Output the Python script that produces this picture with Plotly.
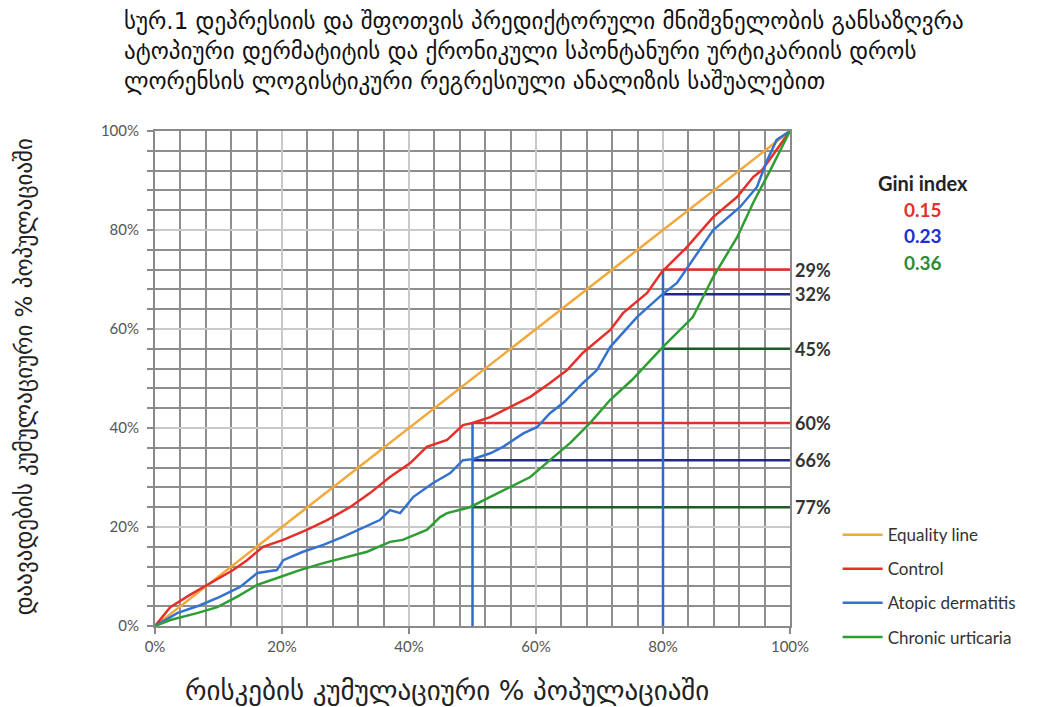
import plotly.graph_objects as go

# ---------------- data ----------------
eq_x = [0.0, 1.0]
eq_y = [0.0, 1.0]

control_x = [0, 0.024, 0.055, 0.091, 0.123, 0.145, 0.17, 0.202, 0.239, 0.271, 0.307, 0.339, 0.37, 0.402, 0.428,
             0.46, 0.485, 0.5, 0.528, 0.559, 0.591, 0.622, 0.649, 0.674, 0.717, 0.737, 0.775, 0.798, 0.838, 0.879,
             0.917, 0.942, 0.956, 1.0]
control_y = [0, 0.038, 0.063, 0.089, 0.113, 0.133, 0.16, 0.174, 0.194, 0.214, 0.24, 0.269, 0.301, 0.329, 0.362,
             0.376, 0.406, 0.41, 0.422, 0.442, 0.463, 0.491, 0.517, 0.552, 0.598, 0.632, 0.673, 0.715, 0.766, 0.826,
             0.867, 0.907, 0.921, 1.0]

atopic_x = [0, 0.035, 0.071, 0.102, 0.134, 0.161, 0.192, 0.202, 0.233, 0.265, 0.296, 0.328, 0.354, 0.37, 0.386,
            0.407, 0.438, 0.465, 0.485, 0.5, 0.528, 0.548, 0.58, 0.602, 0.622, 0.644, 0.674, 0.696, 0.717, 0.759,
            0.798, 0.822, 0.847, 0.879, 0.921, 0.948, 0.964, 0.979, 1.0]
atopic_y = [0, 0.026, 0.042, 0.059, 0.079, 0.107, 0.113, 0.133, 0.15, 0.164, 0.18, 0.198, 0.214, 0.234, 0.228,
            0.261, 0.289, 0.309, 0.335, 0.337, 0.349, 0.362, 0.389, 0.402, 0.43, 0.452, 0.491, 0.517, 0.564, 0.624,
            0.669, 0.693, 0.739, 0.80, 0.846, 0.887, 0.941, 0.982, 1.0]

chronic_x = [0, 0.024, 0.066, 0.098, 0.129, 0.161, 0.197, 0.228, 0.265, 0.302, 0.334, 0.37, 0.39, 0.428, 0.449,
             0.46, 0.496, 0.528, 0.559, 0.591, 0.622, 0.654, 0.685, 0.717, 0.751, 0.80, 0.847, 0.879, 0.917, 0.942,
             0.969, 1.0]
chronic_y = [0, 0.012, 0.026, 0.038, 0.059, 0.083, 0.099, 0.113, 0.127, 0.139, 0.15, 0.17, 0.174, 0.194, 0.22,
             0.228, 0.24, 0.261, 0.281, 0.301, 0.335, 0.37, 0.41, 0.457, 0.497, 0.564, 0.624, 0.705, 0.786, 0.855,
             0.921, 1.0]

cut_x = [0.5, 0.8]
control_cut = [0.41, 0.72]
atopic_cut = [0.335, 0.67]
chronic_cut = [0.24, 0.56]
control_labels = ["60%", "29%"]
atopic_labels = ["66%", "32%"]
chronic_labels = ["77%", "45%"]

gini_values = ["0.15", "0.23", "0.36"]

title_lines = [
    "სურ.1 დეპრესიის და შფოთვის პრედიქტორული მნიშვნელობის განსაზღვრა",
    "ატოპიური დერმატიტის და ქრონიკული სპონტანური ურტიკარიის დროს",
    "ლორენსის ლოგისტიკური რეგრესიული ანალიზის საშუალებით",
]
x_title = "რისკების კუმულაციური % პოპულაციაში"
y_title = "დაავადების კუმულაციური % პოპულაციაში"

# ---------------- colours ----------------
C_EQ = "#F2A83A"
C_CTRL = "#E5302A"
C_AD = "#3572CF"
C_CU = "#2E9E32"
C_AD_H = "#1F2A85"
C_CU_H = "#1D5C22"
C_VERT = "#2D6CC6"

fig = go.Figure()

# cutoff horizontal lines
for cuts, col in [(control_cut, C_CTRL), (atopic_cut, C_AD_H), (chronic_cut, C_CU_H)]:
    for cx, cy in zip(cut_x, cuts):
        fig.add_trace(go.Scatter(x=[cx, 1.0], y=[cy, cy], mode="lines",
                                 line=dict(color=col, width=2.5), showlegend=False, hoverinfo="skip"))
# vertical cutoff lines
for cx, cy in zip(cut_x, control_cut):
    fig.add_trace(go.Scatter(x=[cx, cx], y=[0, cy], mode="lines",
                             line=dict(color=C_VERT, width=2.5), showlegend=False, hoverinfo="skip"))

# curves
curves = [
    ("Equality line", eq_x, eq_y, C_EQ),
    ("Control", control_x, control_y, C_CTRL),
    ("Atopic dermatitis", atopic_x, atopic_y, C_AD),
    ("Chronic urticaria", chronic_x, chronic_y, C_CU),
]
for name, xs, ys, col in curves:
    fig.add_trace(go.Scatter(x=xs, y=ys, mode="lines", name=name, legendgroup=name,
                             line=dict(color=col, width=2.5)))

annotations = []
# right-side labels
for cuts, labels in [(control_cut, control_labels), (atopic_cut, atopic_labels), (chronic_cut, chronic_labels)]:
    for cy, lab in zip(cuts, labels):
        annotations.append(dict(x=1.0, y=cy, xref="x", yref="y", text="<b>%s</b>" % lab, showarrow=False,
                                xanchor="left", yanchor="middle", xshift=3,
                                font=dict(family="Lato, Open Sans, sans-serif", size=18, color="#333333")))

# Gini index block
gx = 1.21
annotations.append(dict(x=gx, y=0.895, xref="paper", yref="paper", text="<b>Gini index</b>", showarrow=False,
                        xanchor="center", yanchor="middle",
                        font=dict(family="Lato, Open Sans, sans-serif", size=20, color="#222222")))
for i, (val, col) in enumerate(zip(gini_values, [C_CTRL, "#2030D0", "#2E8B32"])):
    annotations.append(dict(x=gx, y=0.842 - i * 0.0535, xref="paper", yref="paper", text="<b>%s</b>" % val,
                            showarrow=False, xanchor="center", yanchor="middle",
                            font=dict(family="Lato, Open Sans, sans-serif", size=19, color=col)))

# title
annotations.append(dict(x=-0.052, y=1.252, xref="paper", yref="paper", text="<br>".join(title_lines),
                        showarrow=False, xanchor="left", yanchor="top", align="left",
                        font=dict(family="DejaVu Sans, sans-serif", size=23, color="#111111")))
# axis titles
annotations.append(dict(x=0.46, y=-0.13, xref="paper", yref="paper", text=x_title, showarrow=False,
                        xanchor="center", yanchor="middle",
                        font=dict(family="DejaVu Sans, sans-serif", size=27, color="#222222")))
annotations.append(dict(x=-0.206, y=0.503, xref="paper", yref="paper", text=y_title, showarrow=False,
                        textangle=-90, xanchor="center", yanchor="middle",
                        font=dict(family="DejaVu Sans, sans-serif", size=23, color="#222222")))

axis_common = dict(range=[0, 1], tickformat=".0%", tick0=0, dtick=0.2,
                   showgrid=True, gridcolor="#C9C9C9", gridwidth=2,
                   showline=True, linecolor="#8A8A8A", linewidth=2, mirror=True,
                   zeroline=False, ticks="outside", ticklen=6, tickcolor="#8A8A8A", tickwidth=1.5,
                   tickfont=dict(family="Lato, Open Sans, sans-serif", size=15, color="#555555"),
                   fixedrange=True)

fig.update_layout(
    width=1039, height=707,
    margin=dict(l=147, r=257, t=123, b=89),
    paper_bgcolor="white", plot_bgcolor="white",
    xaxis=dict(**axis_common,
               minor=dict(dtick=0.04, tick0=0, showgrid=True, gridcolor="#8E8E8E", gridwidth=2)),
    yaxis=dict(**axis_common, ticklabelstandoff=5,
               minor=dict(dtick=0.04, tick0=0, showgrid=True, gridcolor="#8E8E8E", gridwidth=2,
                          ticks="outside", ticklen=6, tickcolor="#8A8A8A")),
    showlegend=True,
    legend=dict(x=1.075, y=0.22, xanchor="left", yanchor="top", tracegroupgap=9,
                bgcolor="rgba(0,0,0,0)", itemwidth=40,
                font=dict(family="Lato, Open Sans, sans-serif", size=17, color="#333333")),
    annotations=annotations,
)

fig.write_html("out.html")
